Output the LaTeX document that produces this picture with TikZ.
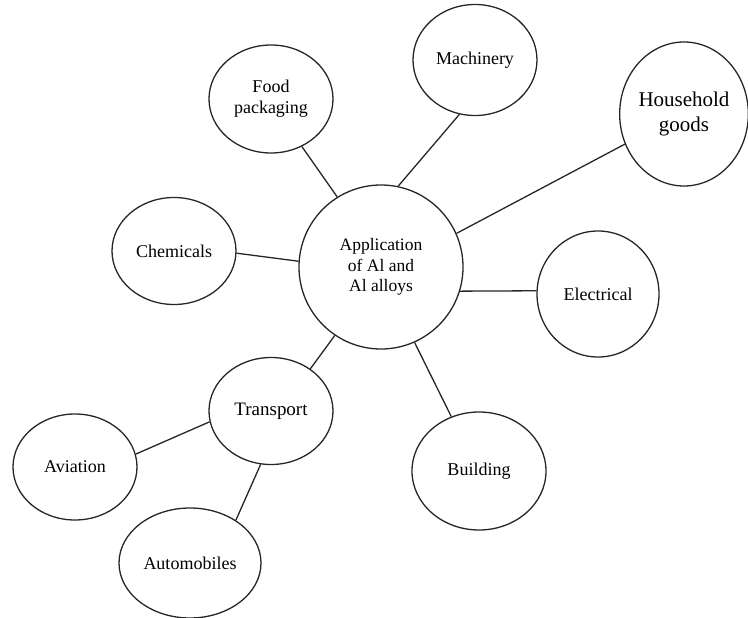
\documentclass[tikz,border=0pt]{standalone}
\usepackage{fontspec}
\setmainfont{Liberation Serif}
\usetikzlibrary{shapes.geometric}
\begin{document}
\begin{tikzpicture}[x=1pt,y=-1pt,
  bubble/.style={ellipse,draw=black!85,line width=1.3pt,inner sep=0pt,align=center,
    font=\fontsize{18}{21}\selectfont},
  link/.style={draw=black!85,line width=1.3pt}]
\useasboundingbox (0,0) rectangle (748,618);

% hub
\node[bubble,minimum width=164pt,minimum height=164pt,font=\fontsize{17.5}{20.5}\selectfont]
  (app) at (381,267) {Application\\of Al and\\Al alloys};

% application areas
\node[bubble,minimum width=124pt,minimum height=108pt] (food) at (271,99) {Food\\packaging};
\node[bubble,minimum width=124pt,minimum height=111pt] (mach) at (475,60) {Machinery};
\node[bubble,minimum width=122pt,minimum height=144pt,font=\fontsize{21}{25}\selectfont]
  (house) at (684,114) {Household\\goods};
\node[bubble,minimum width=124pt,minimum height=107pt] (chem) at (174,251) {Chemicals};
\node[bubble,minimum width=122pt,minimum height=126pt] (elec) at (598,294) {Electrical};
\node[bubble,minimum width=124pt,minimum height=107pt,font=\fontsize{19}{22}\selectfont]
  (trans) at (271,411) {Transport};
\node[bubble,minimum width=134pt,minimum height=118pt] (build) at (479,471) {Building};
\node[bubble,minimum width=124pt,minimum height=106pt] (avia) at (75,467) {Aviation};
\node[bubble,minimum width=142pt,minimum height=110pt] (auto) at (190,563) {Automobiles};

% connectors
\draw[link] (app.122) -- (food.303);
\draw[link] (app.78)  -- (mach.254);
\draw[link] (app.24)  -- (house.207);
\draw[link] (app.176) -- (chem.358);
\draw[link] (app.343) -- (elec.177);
\draw[link] (app.236) -- (trans.47);
\draw[link] (app.294) -- (build.117);
\draw[link] (trans.190) -- (avia.12);
\draw[link] (trans.259) -- (auto.43);
\end{tikzpicture}
\end{document}
